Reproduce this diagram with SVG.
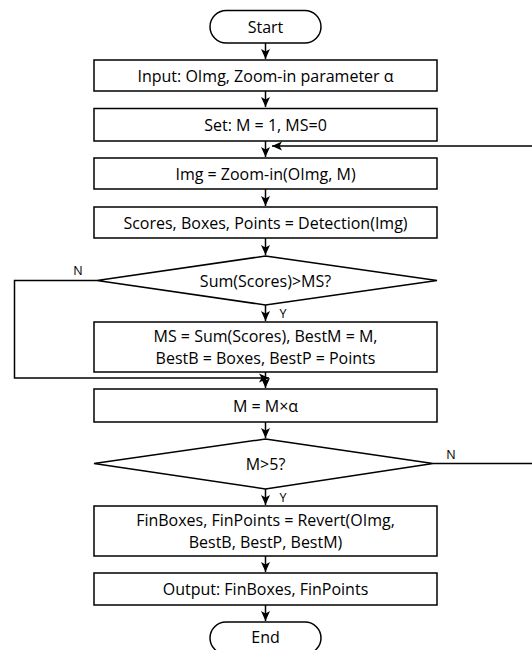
<svg xmlns="http://www.w3.org/2000/svg" width="532" height="650" viewBox="0 0 532 650">
<defs>
<marker id="ah" viewBox="0 0 10 10" refX="10" refY="5" markerWidth="10" markerHeight="10" markerUnits="userSpaceOnUse" orient="auto">
<path d="M0,0.5 L10,5 L0,9.5 L2.5,5 Z" fill="#000"/>
</marker>
<style>
.s{fill:#fff;stroke:#000;stroke-width:1.5}
.c{fill:none;stroke:#000;stroke-width:1.5}
text{font-family:"Open Sans","Noto Sans","Liberation Sans",sans-serif;font-size:16px;fill:#000;text-anchor:middle;dominant-baseline:central}
.l{font-size:12.5px}
</style>
</defs>
<g id="connectors">
<path class="c" d="M265.5,43 V59" marker-end="url(#ah)"/>
<path class="c" d="M265.5,91 V107" marker-end="url(#ah)"/>
<path class="c" d="M265.5,141 V157" marker-end="url(#ah)"/>
<path class="c" d="M265.5,189 V206" marker-end="url(#ah)"/>
<path class="c" d="M265.5,238 V255" marker-end="url(#ah)"/>
<path class="c" d="M265.5,305 V321" marker-end="url(#ah)"/>
<path class="c" d="M265.5,372 V388" marker-end="url(#ah)"/>
<path class="c" d="M265.5,422 V438" marker-end="url(#ah)"/>
<path class="c" d="M265.5,489 V505" marker-end="url(#ah)"/>
<path class="c" d="M265.5,556 V572" marker-end="url(#ah)"/>
<path class="c" d="M265.5,605 V621" marker-end="url(#ah)"/>
<path class="c" d="M97,280.5 H14.5 V378 H269" marker-end="url(#ah)"/>
<path class="c" d="M433,463.5 H534 V146 H272" marker-end="url(#ah)"/>
<text class="l" x="78" y="270">N</text>
<text class="l" x="283" y="313">Y</text>
<text class="l" x="451" y="454">N</text>
<text class="l" x="283" y="497">Y</text>
</g>
<g id="start"><rect class="s" x="210" y="10.5" width="111" height="32.5" rx="16.25"/><text x="265.5" y="26.5">Start</text></g>
<g id="input"><rect class="s" x="94" y="60" width="343" height="31"/><text x="265.5" y="75.5">Input: OImg, Zoom-in parameter α</text></g>
<g id="set"><rect class="s" x="94" y="108.5" width="343" height="32.5"/><text x="265.5" y="124.5">Set: M = 1, MS=0</text></g>
<g id="zoom"><rect class="s" x="94" y="158" width="343" height="31"/><text x="265.5" y="173.5">Img = Zoom-in(OImg, M)</text></g>
<g id="detect"><rect class="s" x="94" y="207" width="343" height="31"/><text x="265.5" y="222.5">Scores, Boxes, Points = Detection(Img)</text></g>
<g id="cond1"><polygon class="s" points="265.5,256 437,280.5 265.5,305 97,280.5"/><text x="265.5" y="280.5">Sum(Scores)&gt;MS?</text></g>
<g id="update"><rect class="s" x="94" y="322" width="343" height="50"/><text x="265.5" y="336">MS = Sum(Scores), BestM = M,</text><text x="265.5" y="358">BestB = Boxes, BestP = Points</text></g>
<g id="mult"><rect class="s" x="94" y="389" width="343" height="33"/><text x="265.5" y="405.5">M = M×α</text></g>
<g id="cond2"><polygon class="s" points="265.5,439 433,463.5 265.5,489 94,463.5"/><text x="265.5" y="463.5">M&gt;5?</text></g>
<g id="revert"><rect class="s" x="94" y="506" width="343" height="50"/><text x="265.5" y="520">FinBoxes, FinPoints = Revert(OImg,</text><text x="265.5" y="542">BestB, BestP, BestM)</text></g>
<g id="output"><rect class="s" x="94" y="573" width="343" height="32"/><text x="265.5" y="589">Output: FinBoxes, FinPoints</text></g>
<g id="end"><rect class="s" x="210" y="622" width="111" height="32" rx="16"/><text x="265.5" y="637">End</text></g>
</svg>
